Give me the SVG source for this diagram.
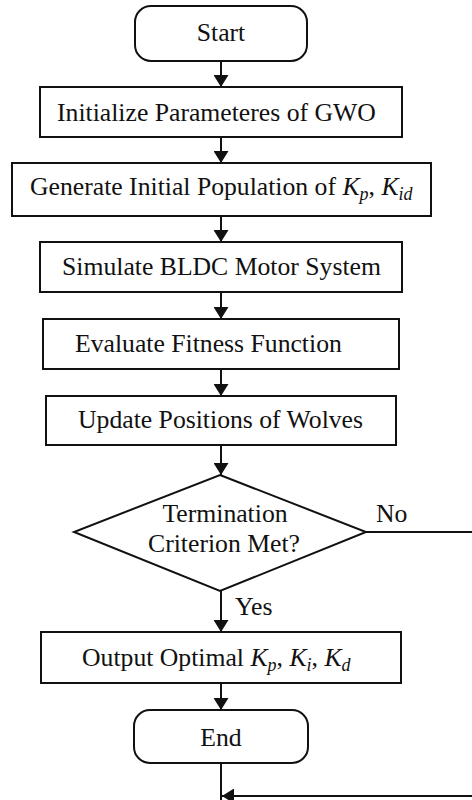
<svg xmlns="http://www.w3.org/2000/svg" width="472" height="800" viewBox="0 0 472 800">
<style>
.box{fill:#fff;stroke:#111;stroke-width:2}
.ln{fill:none;stroke:#111;stroke-width:2}
</style>
<defs>
<marker id="ah" markerUnits="userSpaceOnUse" markerWidth="12" markerHeight="15" viewBox="0 0 12 15" refX="12" refY="7.5" orient="auto">
<path d="M0,0 L12,7.5 L0,15 z" fill="#111"/>
</marker>
</defs>
<rect width="472" height="800" fill="#fff"/>
<g font-family="Liberation Serif, Times New Roman, serif" font-size="25.7" fill="#111">
<g id="connectors">
<line class="ln" x1="221" y1="61" x2="221" y2="87" marker-end="url(#ah)"/>
<line class="ln" x1="221" y1="137" x2="221" y2="163" marker-end="url(#ah)"/>
<line class="ln" x1="221" y1="216" x2="221" y2="242" marker-end="url(#ah)"/>
<line class="ln" x1="221" y1="292" x2="221" y2="319" marker-end="url(#ah)"/>
<line class="ln" x1="221" y1="369" x2="221" y2="396" marker-end="url(#ah)"/>
<line class="ln" x1="221" y1="445" x2="221" y2="475" marker-end="url(#ah)"/>
<line class="ln" x1="221" y1="591" x2="221" y2="632" marker-end="url(#ah)"/>
<line class="ln" x1="221" y1="683" x2="221" y2="710" marker-end="url(#ah)"/>
<line class="ln" x1="221" y1="763" x2="221" y2="800"/>
<path class="ln" d="M366,532 H474 V796 H222" marker-end="url(#ah)"/>
<text x="376" y="522">No</text>
<text x="235" y="615">Yes</text>
</g>
<g id="start">
<rect class="box" x="135" y="6" width="172" height="55" rx="16"/>
<text x="221" y="41" text-anchor="middle">Start</text>
</g>
<g id="init">
<rect class="box" x="40" y="87" width="362" height="50"/>
<text x="57" y="121">Initialize Parameteres of GWO</text>
</g>
<g id="generate">
<rect class="box" x="12" y="163" width="419" height="53"/>
<text x="30" y="195">Generate Initial Population of <tspan font-style="italic">K</tspan><tspan font-size="18" font-style="italic" dy="5">p</tspan><tspan dy="-5">, </tspan><tspan font-style="italic">K</tspan><tspan font-size="18" font-style="italic" dy="5">id</tspan></text>
</g>
<g id="simulate">
<rect class="box" x="40" y="242" width="362" height="50"/>
<text x="62" y="275">Simulate BLDC Motor System</text>
</g>
<g id="evaluate">
<rect class="box" x="43" y="319" width="356" height="50"/>
<text x="75" y="352">Evaluate Fitness Function</text>
</g>
<g id="update">
<rect class="box" x="46" y="396" width="350" height="49"/>
<text x="78" y="428">Update Positions of Wolves</text>
</g>
<g id="decision">
<polygon class="box" points="220,475 366,532 220,591 74,532"/>
<text x="225" y="522" text-anchor="middle">Termination</text>
<text x="224" y="552" text-anchor="middle">Criterion Met?</text>
</g>
<g id="output">
<rect class="box" x="41" y="632" width="360" height="51"/>
<text x="82" y="666">Output Optimal <tspan font-style="italic">K</tspan><tspan font-size="18" font-style="italic" dy="5">p</tspan><tspan dy="-5">, </tspan><tspan font-style="italic">K</tspan><tspan font-size="18" font-style="italic" dy="5">i</tspan><tspan dy="-5">, </tspan><tspan font-style="italic">K</tspan><tspan font-size="18" font-style="italic" dy="5">d</tspan></text>
</g>
<g id="end">
<rect class="box" x="134" y="710" width="174" height="53" rx="16"/>
<text x="221" y="746" text-anchor="middle">End</text>
</g>
</g>
</svg>
